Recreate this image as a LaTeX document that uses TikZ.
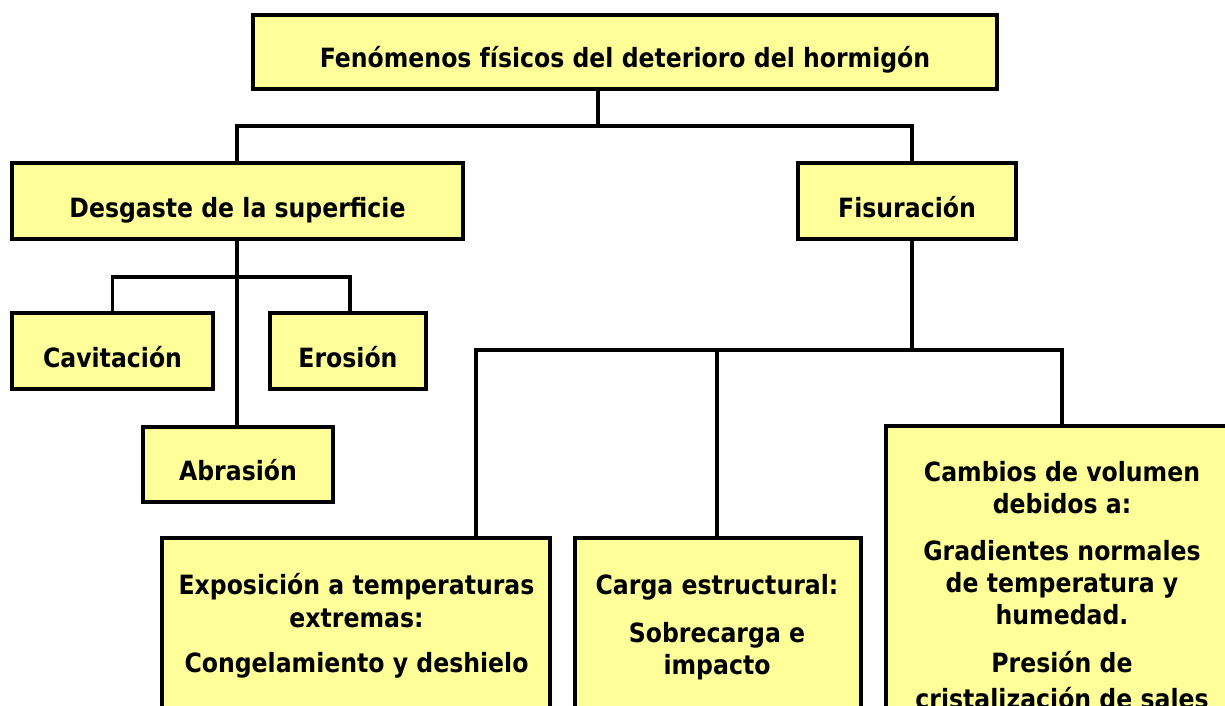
\documentclass[tikz,border=0pt]{standalone}
\usepackage{fontspec}
\setmainfont{DejaVu Sans}[FakeStretch=0.89]
\definecolor{boxyellow}{HTML}{FFFF99}
\newcommand\boxfont{\fontsize{26.5}{32}\selectfont\bfseries}
\tikzset{
  box/.style={draw=black, line width=3.8pt, fill=boxyellow, inner sep=0pt,
              font=\boxfont, text height=32pt, text depth=0pt},
  conn/.style={draw=black, line width=3.5pt, line join=miter},
  txt/.style={anchor=base, inner sep=0pt, font=\boxfont}
}
\begin{document}
\begin{tikzpicture}[x=1pt, y=-1pt]
\useasboundingbox (0,0) rectangle (1225,706);
\fill[white] (0,0) rectangle (1225,706);
\clip (0,0) rectangle (1225,706);

% junction coordinates
\coordinate (j0) at (598,126);
\coordinate (jL) at (237,126);
\coordinate (jR) at (912,126);
\coordinate (jD) at (350,277);
\coordinate (fE) at (476,350);
\coordinate (fC) at (717,350);
\coordinate (fV) at (1062,350);

% boxes
\node[box, minimum width=744pt, minimum height=74pt] (top) at (625,52) {Fenómenos físicos del deterioro del hormigón};
\node[box, minimum width=451pt, minimum height=76pt] (desg) at (237.5,201) {Desgaste de la superficie};
\node[box, minimum width=218pt, minimum height=76pt] (fis) at (907,201) {Fisuración};
\node[box, minimum width=201pt, minimum height=76pt] (cav) at (112.5,351) {Cavitación};
\node[box, minimum width=156pt, minimum height=76pt] (ero) at (348,351) {Erosión};
\node[box, minimum width=190pt, minimum height=75pt] (abr) at (238,464.5) {Abrasión};
\node[box, minimum width=388pt, minimum height=222pt] (expo) at (356,649) {};
\node[box, minimum width=286pt, minimum height=222pt] (carga) at (718,649) {};
\node[box, minimum width=352pt, minimum height=334pt] (cam) at (1062,593) {};

% top level
\draw[conn] (top.south -| j0) -- (j0);
\draw[conn] (desg.north -| jL) -- (jL) -- (jR) -- (fis.north -| jR);

% Desgaste subtree
\draw[conn] (desg.south -| jL) -- (abr.north -| jL);
\draw[conn] (cav.north) |- (jD) -- (ero.north -| jD);

% Fisuracion subtree
\draw[conn] (fis.south -| jR) -- (jR |- fE);
\draw[conn] (expo.north -| fE) -- (fE) -- (fV) -- (cam.north -| fV);
\draw[conn] (carga.north -| fC) -- (fC);

% texts of the tall boxes
\node[txt] (e1) at (356.5,594) {Exposición a temperaturas};
\node[txt] (e2) at (356.5,627) {extremas:};
\node[txt] (e3) at (356.5,672) {Congelamiento y deshielo};

\node[txt] (c1) at (717,594) {Carga estructural:};
\node[txt] (c2) at (717,642) {Sobrecarga e};
\node[txt] (c3) at (717,674) {impacto};

\node[txt] (v1) at (1062,481) {Cambios de volumen};
\node[txt] (v2) at (1062,513) {debidos a:};
\node[txt] (v3) at (1062,560) {Gradientes normales};
\node[txt] (v4) at (1062,592) {de temperatura y};
\node[txt] (v5) at (1062,624) {humedad.};
\node[txt] (v6) at (1062,672) {Presión de};
\node[txt] (v7) at (1062,708) {cristalización de sales};
\end{tikzpicture}
\end{document}
